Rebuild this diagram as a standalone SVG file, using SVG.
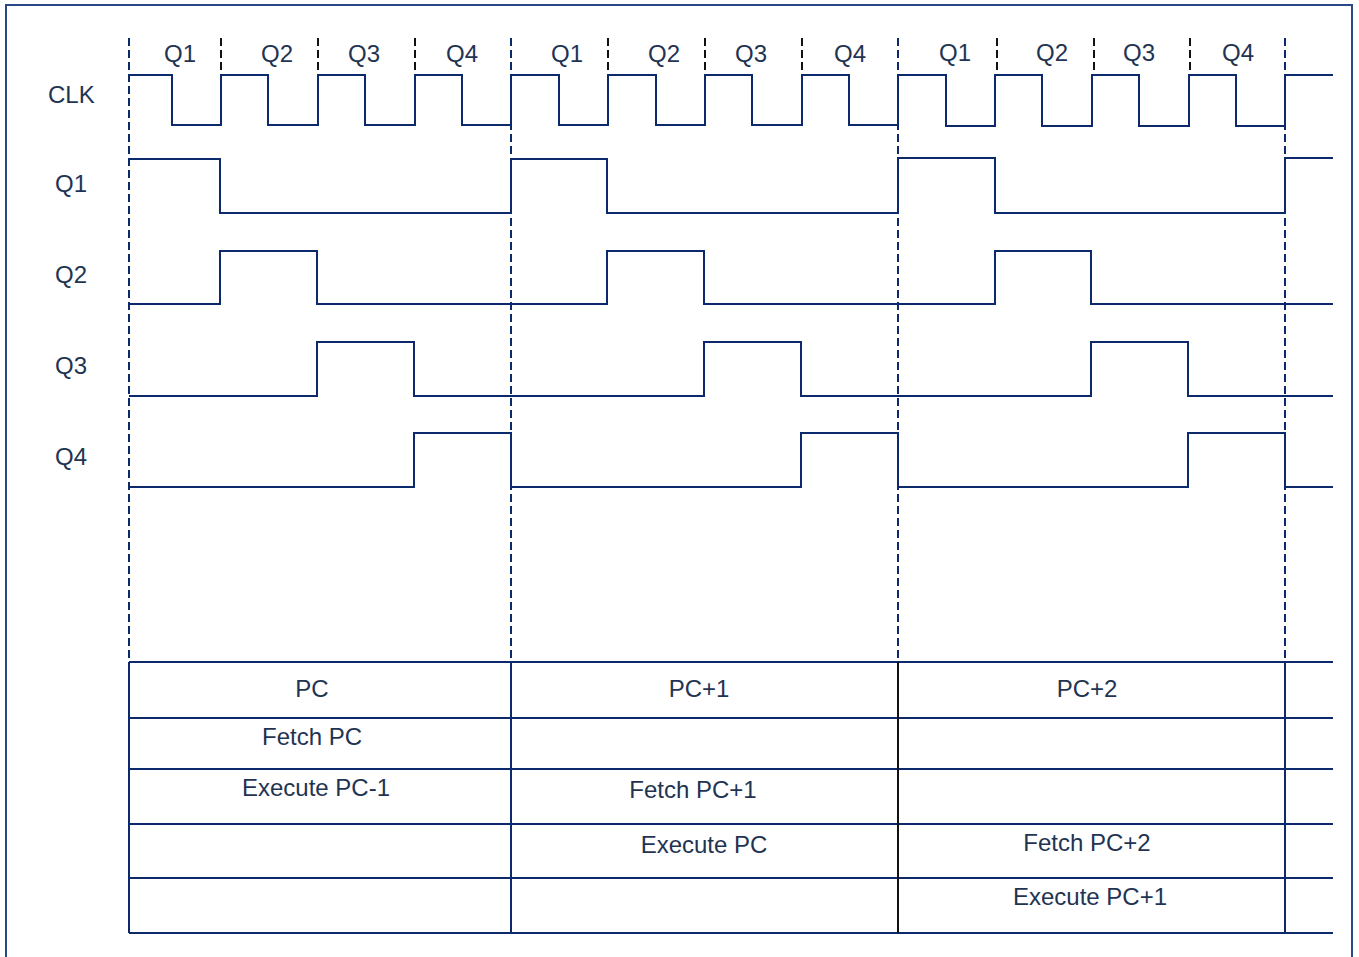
<svg xmlns="http://www.w3.org/2000/svg" width="1359" height="957" viewBox="0 0 1359 957">
<style>
.t{font-family:"Liberation Sans",Arial,sans-serif;font-size:24px;fill:#1f3452}
.c{text-anchor:middle}
.w{fill:none;stroke:#0c2a6b;stroke-width:2;stroke-linejoin:miter}
.maj{stroke:#0c2a6b;stroke-width:2;stroke-dasharray:8 4}
.min{stroke:#111;stroke-width:2;stroke-dasharray:8 4}
.g{stroke:#0c2a6b;stroke-width:2}
</style>
<rect x="0" y="0" width="1359" height="957" fill="#fff"/>
<rect x="6" y="5" width="1346" height="960" fill="none" stroke="#2a4787" stroke-width="2"/>
<g id="labels">
<text class="t" x="48" y="103">CLK</text>
<text class="t" x="55" y="192">Q1</text>
<text class="t" x="55" y="283">Q2</text>
<text class="t" x="55" y="374">Q3</text>
<text class="t" x="55" y="465">Q4</text>
</g>
<g id="phase-labels" class="t c">
<text x="180" y="62">Q1</text><text x="277" y="62">Q2</text><text x="364" y="62">Q3</text><text x="462" y="62">Q4</text>
<text x="567" y="62">Q1</text><text x="664" y="62">Q2</text><text x="751" y="62">Q3</text><text x="850" y="62">Q4</text>
<text x="955" y="61">Q1</text><text x="1052" y="61">Q2</text><text x="1139" y="61">Q3</text><text x="1238" y="61">Q4</text>
</g>
<g id="connectors">
<g id="major-dashes">
<line class="maj" x1="129" y1="38" x2="129" y2="662"/>
<line class="maj" x1="511" y1="38" x2="511" y2="662"/>
<line class="maj" x1="898" y1="38" x2="898" y2="662"/>
<line class="maj" x1="1285" y1="38" x2="1285" y2="662"/>
</g>
<g id="minor-dashes">
<line class="min" x1="221" y1="38" x2="221" y2="73"/>
<line class="min" x1="318" y1="38" x2="318" y2="73"/>
<line class="min" x1="415" y1="38" x2="415" y2="73"/>
<line class="min" x1="608" y1="38" x2="608" y2="73"/>
<line class="min" x1="705" y1="38" x2="705" y2="73"/>
<line class="min" x1="802" y1="38" x2="802" y2="73"/>
<line class="min" x1="997" y1="38" x2="997" y2="73"/>
<line class="min" x1="1094" y1="38" x2="1094" y2="73"/>
<line class="min" x1="1190" y1="38" x2="1190" y2="73"/>
</g>
</g>
<g id="clk">
<path class="w" d="M129 75 H172 V125 H221 V75 H268 V125 H318 V75 H365 V125 H415 V75 H462 V125 H511 V75 H559 V125 H608 V75 H656 V125 H705 V75 H752 V125 H802 V75 H849 V125 H898 V75 H946 V126 H995 V75 H1042 V126 H1092 V75 H1139 V126 H1189 V75 H1236 V126 H1285 V75 H1333"/>
</g>
<g id="q1">
<path class="w" d="M129 159 H220 V213 H511 V159 H607 V213 H898 V158 H995 V213 H1285 V158 H1333"/>
</g>
<g id="q2">
<path class="w" d="M129 304 H220 V251 H317 V304 H607 V251 H704 V304 H995 V251 H1091 V304 H1333"/>
</g>
<g id="q3">
<path class="w" d="M129 396 H317 V342 H414 V396 H704 V342 H801 V396 H1091 V342 H1188 V396 H1333"/>
</g>
<g id="q4">
<path class="w" d="M129 487 H414 V433 H511 V487 H801 V433 H898 V487 H1188 V433 H1285 V487 H1333"/>
</g>
<g id="table">
<line class="g" x1="129" y1="662" x2="1333" y2="662"/>
<line class="g" x1="129" y1="718" x2="1333" y2="718"/>
<line class="g" x1="129" y1="769" x2="1333" y2="769"/>
<line class="g" x1="129" y1="824" x2="1333" y2="824"/>
<line class="g" x1="129" y1="878" x2="1333" y2="878"/>
<line class="g" x1="129" y1="933" x2="1333" y2="933"/>
<line class="g" x1="129" y1="662" x2="129" y2="933"/>
<line class="g" x1="511" y1="662" x2="511" y2="933"/>
<line x1="898" y1="662" x2="898" y2="933" stroke="#111" stroke-width="2"/>
<line class="g" x1="1285" y1="662" x2="1285" y2="933"/>
</g>
<g id="table-text" class="t c">
<text x="312" y="697">PC</text>
<text x="699" y="697">PC+1</text>
<text x="1087" y="697">PC+2</text>
<text x="312" y="745">Fetch PC</text>
<text x="316" y="796">Execute PC-1</text>
<text x="693" y="798">Fetch PC+1</text>
<text x="704" y="853">Execute PC</text>
<text x="1087" y="851">Fetch PC+2</text>
<text x="1090" y="905">Execute PC+1</text>
</g>
</svg>
